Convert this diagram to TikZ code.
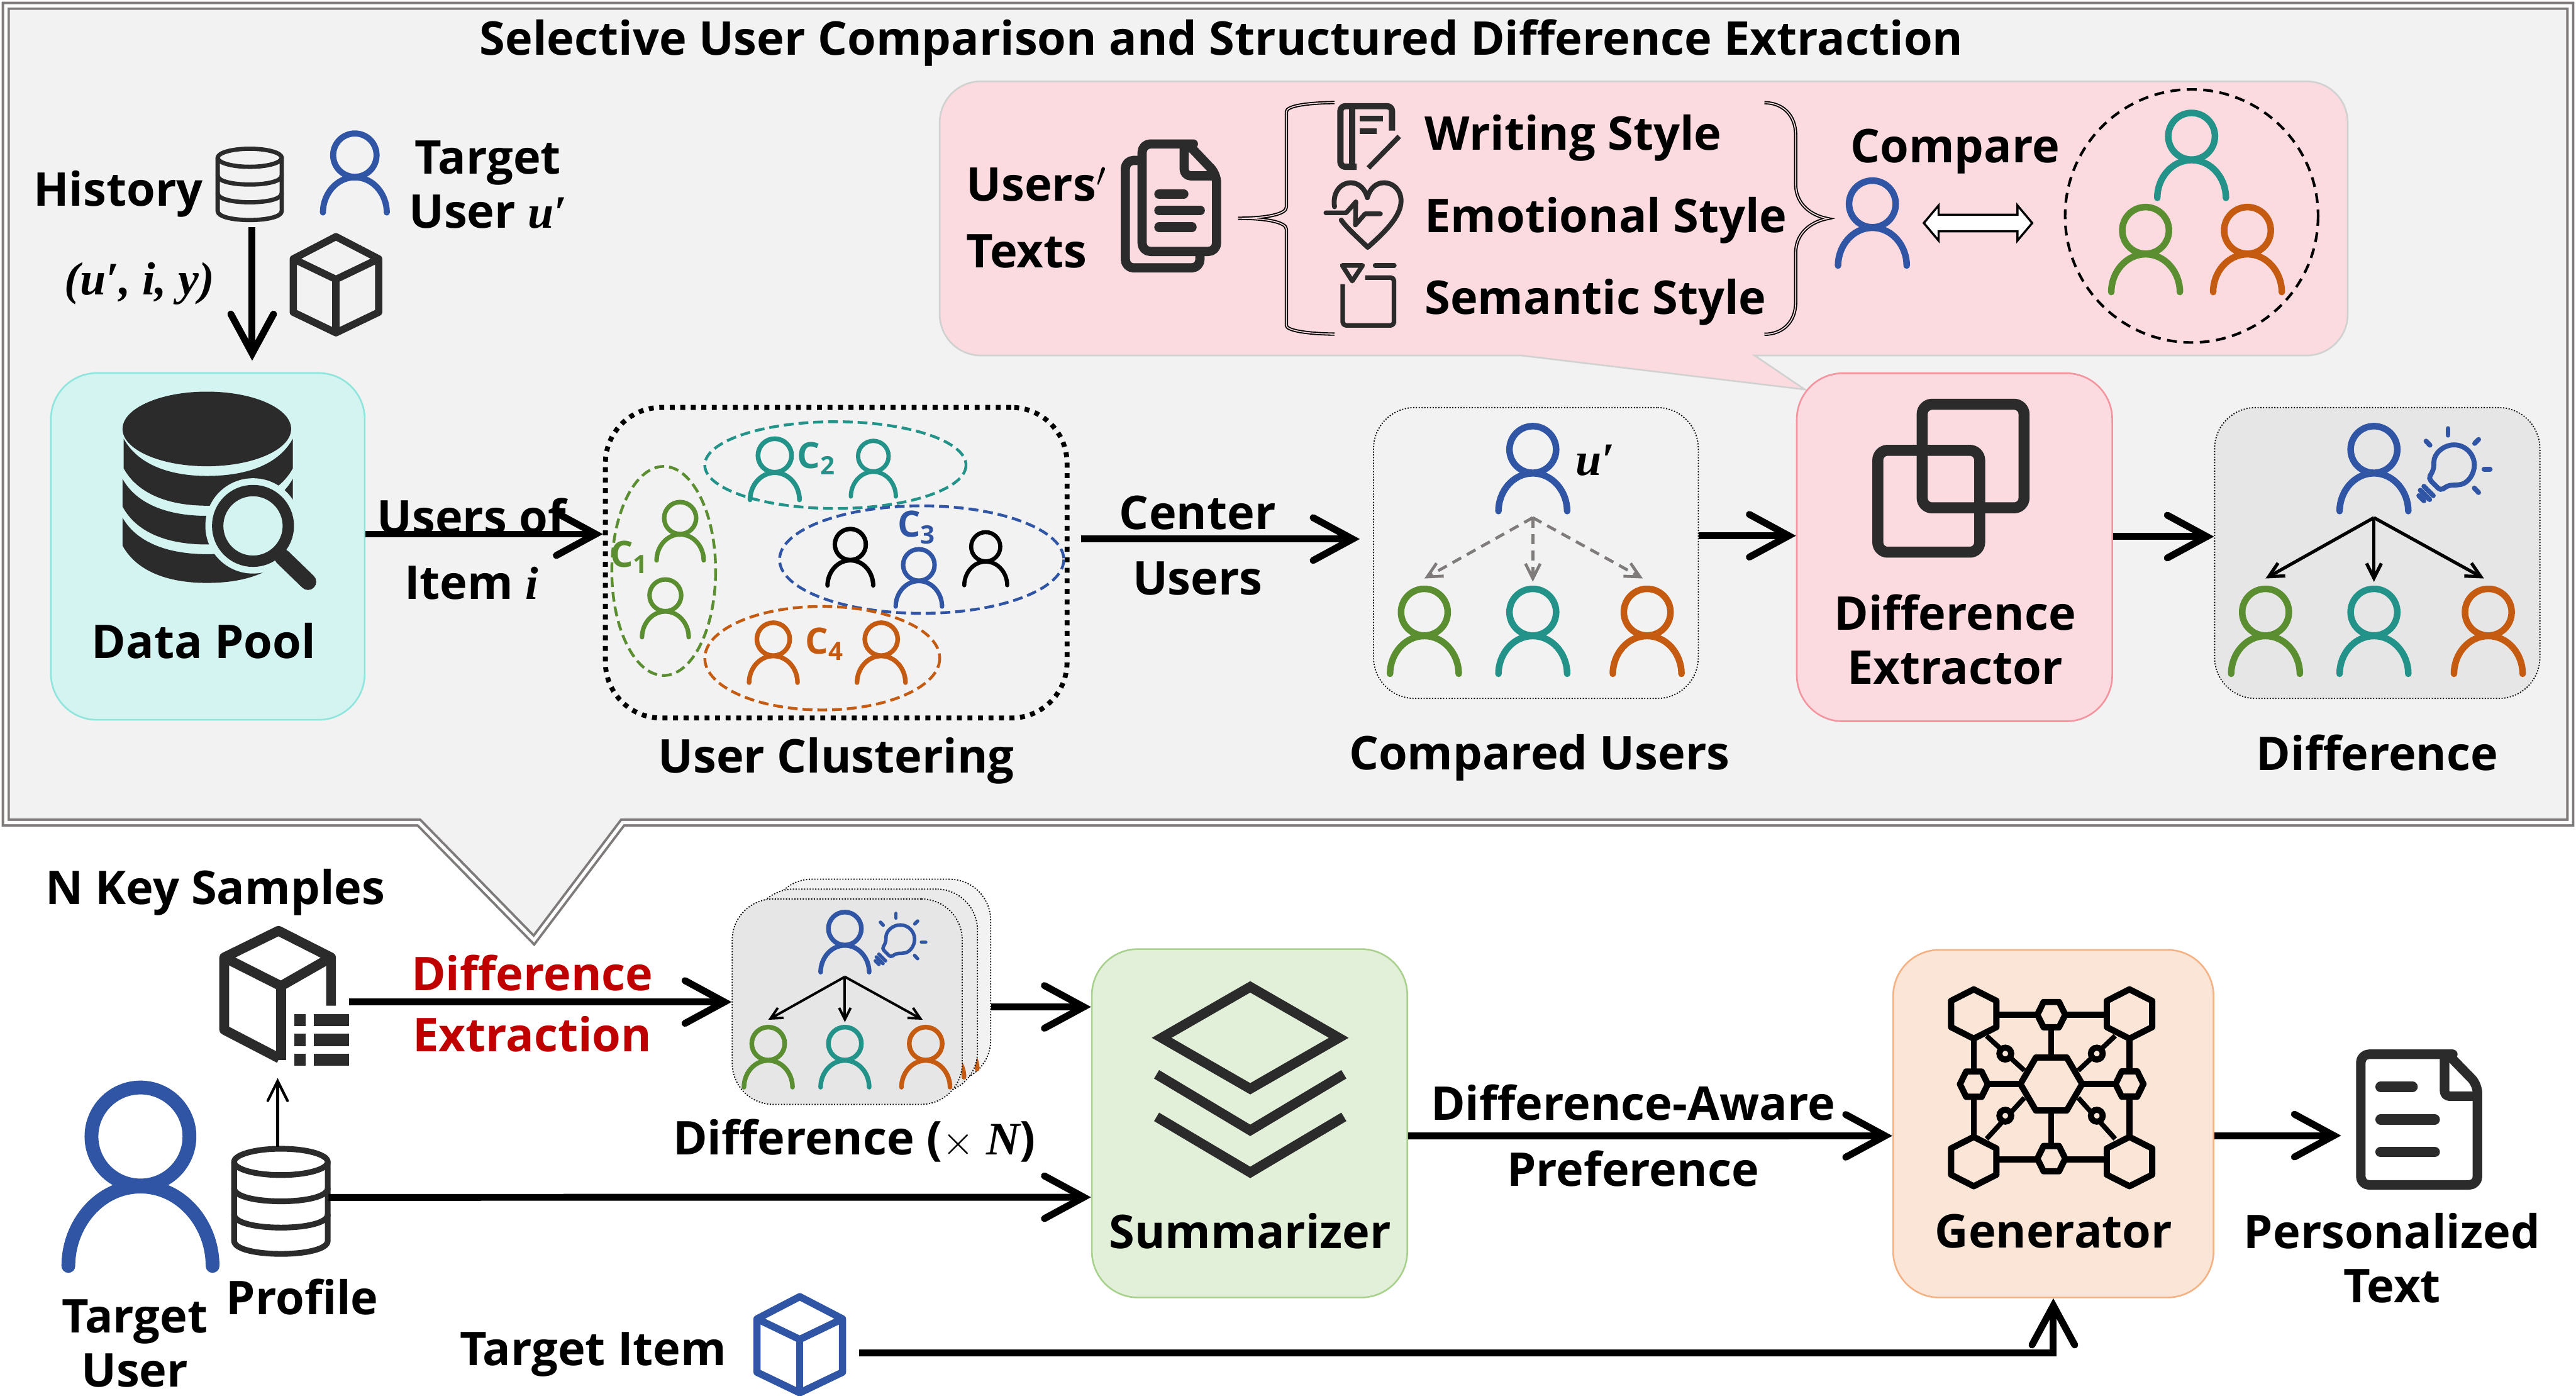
\documentclass[tikz,border=0pt]{standalone}
\usepackage{fontspec}
\usepackage{amsmath}
\setmainfont{Open Sans}
\newfontfamily\symbfont{Liberation Serif}
\usetikzlibrary{calc,arrows.meta,positioning}

\definecolor{framegray}{HTML}{7F7B7B}
\definecolor{panelgray}{HTML}{F2F2F2}
\definecolor{cardgray}{HTML}{E6E6E6}
\definecolor{icondark}{HTML}{2B2B2B}
\definecolor{ublue}{HTML}{2F55A4}
\definecolor{uteal}{HTML}{23938A}
\definecolor{ugreen}{HTML}{5A8E30}
\definecolor{uorange}{HTML}{C55A11}
\definecolor{poolfill}{HTML}{D3F4F1}
\definecolor{pooldraw}{HTML}{8FE5DC}
\definecolor{pinkfill}{HTML}{FBDBE0}
\definecolor{pinkdraw}{HTML}{F4949F}
\definecolor{greenfill}{HTML}{E2F0D9}
\definecolor{greendraw}{HTML}{A9D18E}
\definecolor{peachfill}{HTML}{FBE5D6}
\definecolor{peachdraw}{HTML}{F4B183}
\definecolor{diffred}{HTML}{C00000}

\newcommand{\symb}[1]{{\symbfont\bfseries\itshape #1}}

\tikzset{
    lbl/.style={font=\fontsize{28.3}{33}\selectfont\bfseries, inner sep=0pt, align=center},
    smalllbl/.style={font=\fontsize{22}{26}\selectfont\bfseries, inner sep=0pt},
    flow/.style={line width=4.2pt, -{Straight Barb[length=24pt,width=26pt,line cap=round]}},
    thinflow/.style={line width=1.6pt, -{Straight Barb[length=12pt,width=12pt,line cap=round]}},
    stagebox/.style={rounded corners=28pt, line width=1pt, inner sep=0pt, minimum width=#1},
    usercard/.style={rounded corners=25pt, line width=0.7pt, densely dotted, draw=black, inner sep=0pt},
    clusterring/.style={line width=1.7pt, dash pattern=on 6pt off 3pt},
    icon/.style={color=icondark, line cap=round, line join=round}
}

% --- user figure: colour, x of centre, y of top, scale ---
\newcommand{\usericon}[4]{%
    \begin{scope}[shift={(#2,#3)},scale=#4,color=#1,line width=#4*4pt,line cap=round]
        \draw (0,15.5) circle (14.2);
        \draw (-20.9,53) .. controls (-20.9,41) and (-12,30) .. (0,30)
            .. controls (12,30) and (20.9,41) .. (20.9,53);
    \end{scope}}

% --- cube figure: colour, x, y, scale ---
\newcommand{\cubeicon}[4]{%
    \begin{scope}[shift={(#2,#3)},scale=#4,color=#1,line width=#4*4.4pt,line join=round]
        \draw (0,-29) -- (26,-15.5) -- (26,17) -- (0,29.5) -- (-26,17) -- (-26,-15.5) -- cycle;
        \draw (-26,-15.5) -- (0,-3) -- (26,-15.5);
        \draw (0,-3) -- (0,29.5);
    \end{scope}}

% --- stacked cylinder: x, y of top ellipse, rx, ry, step, line width ---
\newcommand{\dbicon}[6]{%
    \begin{scope}[icon,line width=#6]
        \draw (#1,#2) ellipse (#3 and #4);
        \foreach \k in {1,2} {
            \draw (#1-#3,#2+\k*#5) .. controls (#1-#3,#2+\k*#5+#4*1.33) and (#1+#3,#2+\k*#5+#4*1.33) .. (#1+#3,#2+\k*#5);
        }
        \draw (#1-#3,#2) -- (#1-#3,#2+3*#5) .. controls (#1-#3,#2+3*#5+#4*1.33) and (#1+#3,#2+3*#5+#4*1.33)
            .. (#1+#3,#2+3*#5) -- (#1+#3,#2);
    \end{scope}}

% --- light bulb: x, y, scale ---
\newcommand{\bulbicon}[3]{%
    \begin{scope}[shift={(#1,#2)},scale=#3,color=ublue,line width=#3*3pt,line cap=round]
        \draw[rounded corners=#3*2pt] (-12.3,0) arc[start angle=180,end angle=440,radius=12.3]
            -- (-3.5,12.3) -- (-8.3,15.5) -- (-15.6,8.1) -- (-12.7,3.2) -- cycle;
        \draw (-18.4,12.9) -- (-12.7,18.6);
        \draw (-20.6,15.3) -- (-14.9,21);
        \draw (-21.5,18.6) -- (-18.4,21.7);
        \draw (-3.7,-22.2) -- (-3.7,-18.2);
        \draw (-17.1,-14.6) -- (-14.7,-12.1);
        \draw (14.9,-15.6) -- (12.5,-13.2);
        \draw (18.2,2.6) -- (21.9,2.6);
        \draw (12.3,14) -- (14.9,16.7);
    \end{scope}}

% --- users of a difference card: prefix, x and y of card corner, scale ---
\newcommand{\cardusers}[4]{%
    \usericon{ublue}{#2+97*#4}{#3+10*#4}{#4}
    \usericon{ugreen}{#2+31*#4}{#3+109*#4}{#4}
    \usericon{uteal}{#2+97*#4}{#3+109*#4}{#4}
    \usericon{uorange}{#2+166.6*#4}{#3+109*#4}{#4}
    \coordinate (#1root) at (#2+97*#4,#3+67*#4);
    \coordinate (#1left) at (#2+31*#4,#3+104*#4);
    \coordinate (#1mid) at (#2+97*#4,#3+106*#4);
    \coordinate (#1right) at (#2+164*#4,#3+104*#4);
}

% --- hexagon: x, y, half width, half flat, half height, line width ---
\newcommand{\hexflat}[6]{%
    \draw[line width=#6,line join=round] (#1-#3,#2) -- (#1-#4,#2-#5) -- (#1+#4,#2-#5) -- (#1+#3,#2) -- (#1+#4,#2+#5) -- (#1-#4,#2+#5) -- cycle;}
\newcommand{\hexpointy}[2]{%
    \draw[line width=3.8pt,line join=round] (#1,#2-15) -- (#1+13.8,#2-8) -- (#1+13.8,#2+8) -- (#1,#2+15) -- (#1-13.8,#2+8) -- (#1-13.8,#2-8) -- cycle;}

\begin{document}
\begin{tikzpicture}[x=1pt,y=-1pt]
    \useasboundingbox (0,0) rectangle (1568,849.4);

    % --- Upper panel ---
    \draw[draw=framegray, double=white, line width=1.5pt, double distance=2pt, fill=panelgray, line join=miter]
        (3.5,3.5) -- (1564.5,3.5) -- (1564.5,500.5) -- (379,500.5) -- (325,572) -- (255,500.5) -- (3.5,500.5) -- cycle;
    \node[lbl] (title) at (743.5,26) {Selective User Comparison and Structured Difference Extraction};

    % --- History and target user ---
    \node[lbl] (history) at (72,118) {History};
    \dbicon{152}{96}{19.5}{5.5}{10.8}{2.6pt}
    \usericon{ublue}{216}{80}{0.93}
    \node[lbl] (targetuser) at (297,112.5) {Target\\User \symb{u′}};
    \node[lbl] (triple) at (85,172.5) {\symb{(u′, i, y)}};
    \cubeicon{icondark}{204.5}{173}{1}
    \coordinate (historyout) at (153.5,138);

    % --- Data pool ---
    \node[stagebox=191pt, minimum height=211pt, fill=poolfill, draw=pooldraw] (datapool) at (126.5,332.5) {};
    \fill[icondark] (125.9,261) ellipse (51.3 and 22.7);
    \foreach \xl/\xr/\ta/\tb/\ba/\bb in {75.3/178.2/267/289.6/285/307.7, 74.6/178.2/291.4/313.9/308.2/331.3, 74.6/178.2/315/337.2/332/354.7} {
        \fill[icondark] (\xl,\ta) .. controls (\xl+8,\tb-8) and (\xl+26,\tb) .. (126,\tb)
            .. controls (\xr-26,\tb) and (\xr-8,\tb-8) .. (\xr,\ta) -- (\xr,\ba)
            .. controls (\xr-8,\bb-8) and (\xr-26,\bb) .. (126,\bb)
            .. controls (\xl+26,\bb) and (\xl+8,\bb-8) .. (\xl,\ba) -- cycle;
    }
    \fill[poolfill] (154,320) circle (29);
    \draw[icondark, line width=10pt, line cap=round] (172,339) -- (187.5,354);
    \draw[icondark, line width=6.9pt] (154,320) circle (21.5);
    \node[lbl] (poollabel) at (124,390) {Data Pool};
    \draw[flow] (historyout) -- ([yshift=7pt]datapool.north -| historyout);

    % --- User clustering ---
    \node[draw=black, line width=3pt, dash pattern=on 3pt off 3.4pt, rounded corners=34pt, inner sep=0pt,
        minimum width=281pt, minimum height=189pt] (clusterbox) at (509,342.4) {};
    \draw[clusterring, ugreen] (404,347.4) ellipse (31.6 and 63.6);
    \draw[clusterring, uteal] (508.5,283) ellipse (79.5 and 26.4);
    \draw[clusterring, ublue] (561,340.5) ellipse (86.5 and 32.7);
    \draw[clusterring, uorange] (500.5,400.5) ellipse (71.5 and 31.5);
    \foreach \ucol/\ux/\uy/\us in {ugreen/414/304.6/0.686, ugreen/405/351.7/0.68, uteal/471.6/266/0.72, uteal/531.6/267.4/0.655,
        black/517.6/321/0.665, ublue/559.3/333.3/0.675, black/600/323/0.625, uorange/470.7/378/0.705, uorange/536.4/378/0.705} {
        \usericon{\ucol}{\ux}{\uy}{\us}
    }
    \node[smalllbl, text=ugreen] (cone) at (383,339) {C\textsubscript{1}};
    \node[smalllbl, text=uteal] (ctwo) at (497,279) {C\textsubscript{2}};
    \node[smalllbl, text=ublue] (cthree) at (558,321) {C\textsubscript{3}};
    \node[smalllbl, text=uorange] (cfour) at (502,392) {C\textsubscript{4}};
    \node[lbl] (clusterlabel) at (509,463) {User Clustering};

    \node[lbl] (usersof) at (287,334) {Users of\\[7pt]Item \symb{i}};
    \draw[flow] ([yshift=7.5pt]datapool.east) -- ([yshift=17.4pt]clusterbox.west);
    \node[lbl] (centerusers) at (729,332) {Center\\[7pt]Users};

    % --- Compared users ---
    \node[usercard, minimum width=197.7pt, minimum height=177pt] (comparedbox) at (934.9,336.5) {};
    \cardusers{cmp}{836}{248}{1}
    \node[lbl] (uprime) at (971,280) {\symb{u′}};
    \foreach \ctarget in {cmpleft,cmpmid,cmpright} {
        \draw[color=framegray, line width=1.8pt, dash pattern=on 6pt off 4pt, -{Straight Barb[length=9pt,width=9pt]}] (cmproot) -- (\ctarget);
    }
    \node[lbl] (comparedlabel) at (937,461) {Compared Users};
    \draw[flow] ([xshift=7pt]clusterbox.east |- 0,328) -- ([xshift=-8pt]comparedbox.west |- 0,328);

    % --- Callout with the three styles ---
    \draw[fill=pinkfill, draw=black!18, line width=1pt, rounded corners=25pt]
        (572,49.5) -- (1429,49.5) -- (1429,216.3) -- (1100,216.3) [sharp corners] -- (1068,216.3) -- (1098.6,237) -- (925.9,216.3)
        -- (900,216.3) [rounded corners=25pt] -- (572,216.3) -- cycle;
    \node[lbl, align=left, anchor=west] (userstexts) at (588,132.5) {Users$'$\\[7.5pt]Texts};

    % documents
    \draw[icon, line width=5.6pt, line cap=butt, rounded corners=5pt] (695,97.6) -- (685,97.6) -- (685,163) -- (730.4,163) -- (730.4,155);
    \draw[icon, line width=5.6pt, rounded corners=5pt] (721.4,87.6) -- (695.2,87.6) -- (695.2,153) -- (740.5,153) -- (740.5,106) -- (723,87.6) -- cycle;
    \draw[icon, line width=5.6pt, rounded corners=4pt, line cap=butt] (720.8,88) -- (720.8,107) -- (740.5,107);
    \draw[icon, line width=5.8pt] (705.5,118) -- (720.5,118);
    \draw[icon, line width=5.8pt] (705.5,128) -- (730.5,128);
    \draw[icon, line width=5.8pt] (705.5,138.2) -- (725.5,138.2);

    % braces
    \draw[draw=black, double=pinkfill, line width=0.7pt, double distance=0.6pt]
        (812.3,62.4) .. controls (795,62.6) and (783,64.5) .. (783,68) -- (783,126)
        .. controls (783,130.5) and (770,132.8) .. (753.6,132.8)
        .. controls (770,132.8) and (783,135) .. (783,139.5) -- (783,198)
        .. controls (783,201) and (795,203.1) .. (812.3,203.3);
    \draw[draw=black, double=pinkfill, line width=0.7pt, double distance=0.6pt]
        (1074,62.5) .. controls (1085,62.5) and (1093,70) .. (1093,82) -- (1093,112)
        .. controls (1093,124) and (1102,131) .. (1112.4,133)
        .. controls (1102,135) and (1093,142) .. (1093,154) -- (1093,184)
        .. controls (1093,196) and (1085,203.4) .. (1074,203.4);

    % writing icon
    \draw[icon, line width=3.8pt, line cap=butt, rounded corners=3pt] (847.3,79.5) -- (847.3,64.6) -- (815.9,64.6) -- (815.9,101.5) -- (825.8,101.5);
    \draw[icon, line width=3.8pt, line cap=butt] (822.9,64.6) -- (822.9,101.5);
    \draw[icon, line width=3.7pt, line cap=butt] (827.8,72.2) -- (841.7,72.2);
    \draw[icon, line width=3.7pt, line cap=butt] (827.8,79.8) -- (838,79.8);
    \draw[icon, line width=3pt, line cap=butt] (851.7,83) -- (832.9,102.2);

    % heart icon
    \draw[icon, line width=3pt] (812.3,125.8) .. controls (811,117) and (816,111.2) .. (822.3,111.2)
        .. controls (827,111.2) and (831,115) .. (832.3,120.3) .. controls (833.6,115) and (837.5,111.2) .. (842.3,111.2)
        .. controls (848.5,111.2) and (852.8,116) .. (852.8,122.3) .. controls (852.8,132) and (842,142) .. (832.5,150.5)
        .. controls (826,144) and (820,139) .. (816.4,133.9);
    \draw[icon, line width=2.8pt] (807,129.5) -- (819.4,129.5) -- (825.3,122.8) -- (825,136.9) -- (830.9,130.1) -- (840.3,130.1);

    % semantic icon
    \draw[icon, line width=2.8pt] (817,161.5) -- (829.4,161.5) -- (823.1,171) -- cycle;
    \draw[icon, line width=2.8pt] (837,161.5) -- (848.7,161.5);
    \draw[icon, line width=2.8pt, line cap=butt, rounded corners=2pt] (830.9,168.9) -- (848.5,168.9) -- (848.5,198) -- (817.3,198) -- (817.3,172.9);

    \node[lbl, anchor=west] (writingstyle) at (867,84) {Writing Style};
    \node[lbl, anchor=west] (emotionalstyle) at (867,134) {Emotional Style};
    \node[lbl, anchor=west] (semanticstyle) at (867,184) {Semantic Style};
    \node[lbl] (comparelabel) at (1190,92) {Compare};
    \usericon{ublue}{1139.7}{108.6}{1}
    \draw[fill=white, draw=black, line width=1.3pt] (1171,135.7) -- (1180,125) -- (1180,130.7) -- (1228,130.7) -- (1228,125)
        -- (1237,135.7) -- (1228,146.4) -- (1228,140.7) -- (1180,140.7) -- (1180,146.4) -- cycle;
    \draw[line width=1.6pt, dash pattern=on 6pt off 4pt] (1334,131.4) circle (77);
    \usericon{uteal}{1334}{67.4}{1}
    \usericon{ugreen}{1306}{124.7}{1}
    \usericon{uorange}{1368}{124.7}{1}

    % --- Difference extractor ---
    \node[stagebox=192pt, minimum height=211.8pt, fill=pinkfill, draw=pinkdraw] (extractor) at (1189.7,333) {};
    \draw[icondark, line width=6.7pt, rounded corners=6pt] (1170,246) rectangle (1232,309);
    \draw[icondark, line width=6.7pt, rounded corners=6pt] (1143,274) rectangle (1205,336);
    \node[lbl] (extractorlabel) at (1190,389) {Difference\\Extractor};
    \draw[flow] ([yshift=10.5pt]comparedbox.east) -- ([yshift=7pt]extractor.west);

    % --- Difference ---
    \node[usercard, fill=cardgray, minimum width=198pt, minimum height=177pt] (diffbox) at (1447,336.5) {};
    \cardusers{dif}{1348}{248}{1}
    \bulbicon{1493.8}{283}{1}
    \foreach \dtarget in {difleft,difmid,difright} {
        \draw[line width=2pt, -{Straight Barb[length=9pt,width=9pt]}] (difroot) -- (\dtarget);
    }
    \node[lbl] (difflabel) at (1447,458) {Difference};
    \draw[flow] ([yshift=6.5pt]extractor.east) -- ([yshift=10pt]diffbox.west);

    % --- Lower row: key samples ---
    \node[lbl] (keysamples) at (131,543) {N Key Samples};
    \draw[icon, line width=6pt, line cap=butt] (201.5,612) -- (201.5,582.6) -- (169.5,566.4) -- (136.5,582.6) -- (136.5,626.6) -- (170,644);
    \draw[icon, line width=6pt, line cap=butt] (136.5,582.6) -- (171,600) -- (201.5,582.6);
    \draw[icon, line width=6pt, line cap=butt] (171,600) -- (171,645);
    \foreach \ly in {620.8,632.8,644.8} {
        \fill[icondark] (179,\ly-3.7) rectangle (186,\ly+3.7);
        \fill[icondark] (191,\ly-3.7) rectangle (212.4,\ly+3.7);
    }
    \coordinate (samplesout) at (212.4,609.7);

    % --- Stack of difference cards ---
    \node[usercard, fill=panelgray, minimum width=134pt, minimum height=123pt] (cardback) at (536,596.5) {};
    \usericon{uorange}{580}{613}{0.707}
    \node[usercard, fill=cardgray!70!panelgray, minimum width=137pt, minimum height=124pt] (cardmid) at (526.5,603) {};
    \usericon{uorange}{572}{618}{0.707}
    \node[usercard, fill=cardgray, minimum width=140pt, minimum height=125pt] (cardfront) at (515.7,609.5) {};
    \cardusers{frt}{445.7}{547}{0.707}
    \bulbicon{548}{571.5}{0.707}
    \foreach \ftarget in {frtleft,frtmid,frtright} {
        \draw[line width=1.5pt, -{Straight Barb[length=7pt,width=7pt]}] (frtroot) -- (\ftarget);
    }
    \node[lbl] (stacklabel) at (520,694) {Difference ($\times$ \symb{N})};
    \node[lbl, text=diffred] (diffextraction) at (324,610.5) {Difference\\[4pt]Extraction};
    \draw[flow] (samplesout) -- (cardfront.west |- samplesout);

    % --- Target user and profile ---
    \usericon{ublue}{85.5}{659}{2.1}
    \node[lbl] (targetlabel) at (82,817.5) {Target\\User};
    \dbicon{171}{707}{28.5}{8}{16}{3.5pt}
    \coordinate (profiletop) at (169,698);
    \coordinate (samplesin) at (169,656);
    \coordinate (profileout) at (200,728.6);
    \draw[thinflow] (profiletop) -- (samplesin);
    \node[lbl] (profilelabel) at (184,789) {Profile};

    % --- Summarizer ---
    \node[stagebox=192pt, minimum height=212pt, fill=greenfill, draw=greendraw] (summarizer) at (760.6,683.5) {};
    \draw[icondark, line width=6pt, line join=miter] (761,600.5) -- (814.9,631.5) -- (761,662.5) -- (707.1,631.5) -- cycle;
    \draw[icondark, line width=6pt, line join=miter] (704,653.7) -- (761,687.8) -- (818,653.7);
    \draw[icondark, line width=6pt, line join=miter] (704,679.6) -- (761,713.4) -- (818,679.6);
    \node[lbl] (summarizerlabel) at (761,749) {Summarizer};
    \draw[flow] (cardback.east |- 0,612.7) -- ([yshift=70.8pt]summarizer.west);
    \draw[flow] (profileout) -- ([yshift=-45pt]summarizer.west);

    % --- Generator ---
    \node[stagebox=195pt, minimum height=211.5pt, fill=peachfill, draw=peachdraw] (generator) at (1249.85,683.75) {};
    \foreach \gx/\gy in {1201.4/617, 1296.2/617, 1201.4/706.8, 1296.2/706.8} {
        \hexpointy{\gx}{\gy}
    }
    \foreach \gx/\gy in {1248.6/617.4, 1201.5/659.7, 1296.2/659.6, 1248.6/705} {
        \hexflat{\gx}{\gy}{8.5}{4.7}{7.7}{3.8pt}
    }
    \hexflat{1248.6}{659.6}{18.8}{9.4}{16.1}{3.8pt}
    \foreach \ax/\ay/\bx/\by in {1215.2/617.4/1240.1/617.4, 1257.1/617.4/1282.4/617.4, 1215.2/705.5/1240.1/705.5, 1257.1/705.5/1282.4/705.5,
        1210/659.7/1229.8/659.7, 1267.4/659.7/1287.7/659.7} {
        \draw[line width=3.8pt] (\ax,\ay) -- (\bx,\by);
    }
    \foreach \ax/\ay/\bx/\by in {1201.4/632/1201.4/652, 1201.4/667.4/1201.4/691.8, 1296.2/632/1296.2/652, 1296.2/667.4/1296.2/691.8,
        1248.6/625.1/1248.6/643.5, 1248.6/675.7/1248.6/697.3} {
        \draw[line width=3.5pt] (\ax,\ay) -- (\bx,\by);
    }
    \foreach \ax/\ay/\bx/\by in {1209.2/630.3/1232.2/651.4, 1287.5/630.3/1265/651.4, 1209.2/693/1232.2/668, 1287.5/693/1265/668} {
        \draw[line width=3pt] (\ax,\ay) -- (\bx,\by);
    }
    \foreach \cx/\cy in {1220.6/641.1, 1276.3/641.1, 1220.6/678.9, 1276.3/678.9} {
        \draw[fill=peachfill, line width=3.7pt] (\cx,\cy) circle (3.6);
    }
    \node[lbl] (generatorlabel) at (1250,749) {Generator};
    \node[lbl] (awarelabel) at (994,691) {Difference-Aware\\[7pt]Preference};
    \draw[flow] ([yshift=-7.7pt]summarizer.east) -- ([yshift=-7.4pt]generator.west);

    % --- Output text ---
    \draw[icon, line width=5.8pt, rounded corners=5pt] (1488,641.5) -- (1437,641.5) -- (1437,721) -- (1508,721) -- (1508,660) -- (1490,641.5) -- cycle;
    \draw[icon, line width=5.8pt, line cap=butt, rounded corners=3pt] (1488,642) -- (1488,667) -- (1508,667);
    \draw[icon, line width=6.3pt] (1449,661.3) -- (1468.5,661.3);
    \draw[icon, line width=6.3pt] (1449,681.2) -- (1482,681.2);
    \draw[icon, line width=6.3pt] (1449,701) -- (1482,701);
    \coordinate (textin) at (1425,691);
    \draw[flow] (generator.east |- textin) -- (textin);
    \node[lbl] (personalized) at (1456,765.5) {Personalized\\Text};

    % --- Target item ---
    \node[lbl] (targetitem) at (361,824) {Target Item};
    \cubeicon{ublue}{486.8}{818}{1}
    \coordinate (itemout) at (523,823.3);
    \draw[flow] (itemout) -| (generator.south);

\end{tikzpicture}
\end{document}
